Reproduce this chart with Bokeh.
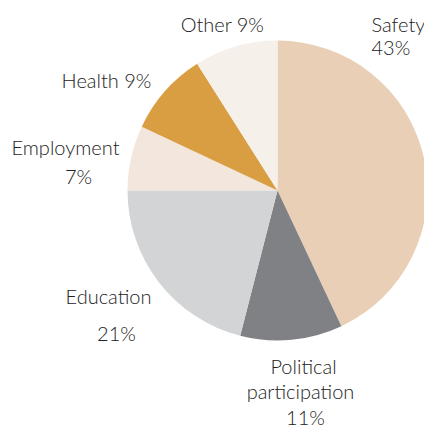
import numpy as np
from bokeh.plotting import figure
from bokeh.models import Range1d, ColumnDataSource
from bokeh.core.properties import value
from bokeh.embed import file_html
from bokeh.resources import INLINE

# data
categories = ["Safety", "Political participation", "Education", "Employment", "Health", "Other"]
shares = [43, 11, 21, 7, 9, 9]
colors = ["#E8CFB5", "#808185", "#D3D4D6", "#F2E6DD", "#D99D42", "#F5F0EA"]

# label lines: (text, x, y_from_top, align)
label_lines = [
    ("Other 9%", 222, 32, "center"),
    ("Safety", 371, 32, "left"),
    ("43%", 371, 55, "left"),
    ("Health 9%", 106, 88, "center"),
    ("Employment", 65, 155, "center"),
    ("7%", 78, 184, "center"),
    ("Education", 108, 304, "center"),
    ("21%", 116, 341, "center"),
    ("Political", 303, 374, "center"),
    ("participation", 300, 399, "center"),
    ("11%", 305, 425, "center"),
]
TEXT_SHIFT = 9  # compensates renderer baseline offset

W, H = 424, 428
cx, cy, R = 277, H - 190, 150

vals = np.array(shares, dtype=float)
frac = vals / vals.sum()
cum = np.concatenate([[0], np.cumsum(frac)])
start = np.pi / 2 - cum[1:] * 2 * np.pi
end = np.pi / 2 - cum[:-1] * 2 * np.pi

src = ColumnDataSource(dict(cat=categories, start=start, end=end, color=colors))

p = figure(width=W, height=H, output_backend="svg", toolbar_location=None,
           x_range=Range1d(0, W), y_range=Range1d(0, H), min_border=0)
p.axis.visible = False
p.grid.visible = False
p.outline_line_color = None
p.background_fill_color = "white"

p.wedge(x=cx, y=cy, radius=R, start_angle="start", end_angle="end", direction="anticlock",
        fill_color="color", line_color=None, source=src)

for txt, x, y, align in label_lines:
    p.text(x=[x], y=[H - y + TEXT_SHIFT], text=[txt], text_align=align, text_baseline="alphabetic",
           text_font=value("'Lato Light', 'Lato'"), text_font_size="20px", text_color="#222222")

open("out.html", "w").write(file_html(p, INLINE))
